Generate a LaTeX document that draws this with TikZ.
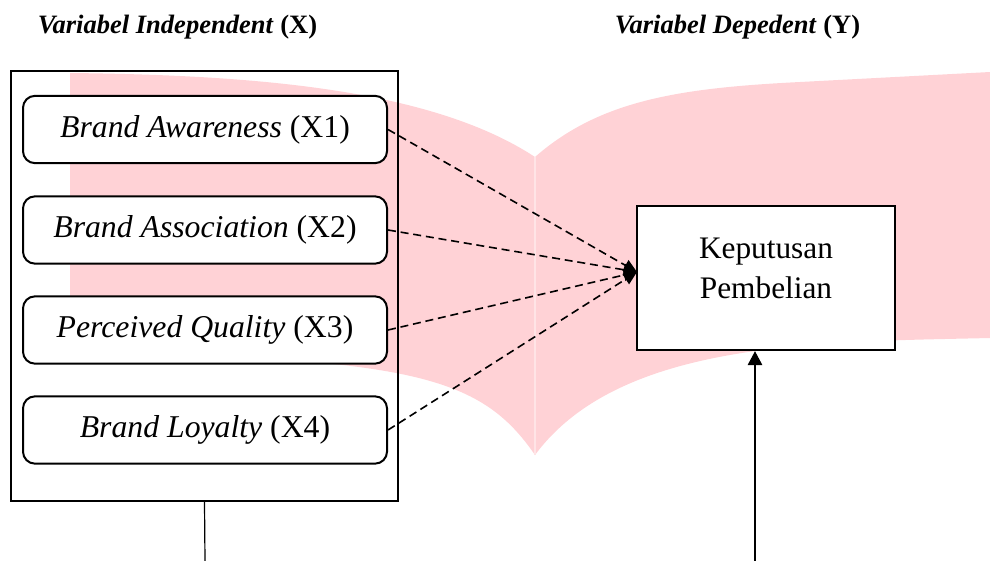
\documentclass[tikz,border=0pt]{standalone}
\usepackage{fontspec}
\setmainfont{Liberation Serif}
\usetikzlibrary{arrows.meta}
\definecolor{wm}{RGB}{255,210,214}
\definecolor{wmline}{RGB}{255,228,230}
\begin{document}
\begin{tikzpicture}[x=0.75pt,y=-0.75pt,
  varbox/.style={draw,line width=1.5pt,rounded corners=9pt,fill=white,minimum width=273pt,minimum height=50.5pt,inner sep=0pt,font=\fontsize{23.8}{28}\selectfont},
  outerbox/.style={draw,line width=1.6pt,minimum width=290pt,minimum height=322.5pt,inner sep=0pt},
  depbox/.style={draw,line width=1.8pt,fill=white,minimum width=193.5pt,minimum height=108pt,inner sep=0pt},
  deptext/.style={align=center,font=\fontsize{23.5}{30}\selectfont},
  titletext/.style={font=\fontsize{19.9}{24}\selectfont},
  dasharrow/.style={line width=1.2pt,dash pattern=on 6pt off 3.6pt,-{Triangle[length=10pt,width=9pt]}},
  plainline/.style={line width=0.9pt},
  uparrow/.style={line width=0.9pt,-{Triangle[length=10.5pt,width=11pt]}}
]
\useasboundingbox (0,0) rectangle (990,561);
% watermark (open book)
\fill[wm] (70,73) .. controls (250,75) and (430,88) .. (535,157)
  -- (535,455) .. controls (480,375) and (410,358) .. (70,352) -- cycle;
\fill[wm] (535,157) .. controls (600,100) and (680,88) .. (800,82)
  -- (990,72) -- (990,338) .. controls (820,342) and (620,340) .. (535,455) -- cycle;
\draw[wmline,line width=1pt] (535,157) -- (535,455);
% titles
\node[titletext] (tx) at (177.5,27) {\textbf{\textit{Variabel Independent}} \textbf{(X)}};
\node[titletext] (ty) at (737.5,27) {\textbf{\textit{Variabel Depedent}} \textbf{(Y)}};
% boxes
\node[outerbox] (outer) at (204.5,286) {};
\node[varbox] (x1) at (205,129.5) {\raisebox{-2pt}{\textit{Brand Awareness} (X1)}};
\node[varbox] (x2) at (205,230) {\raisebox{-2pt}{\textit{Brand Association} (X2)}};
\node[varbox] (x3) at (205,330) {\raisebox{-2pt}{\textit{Perceived Quality} (X3)}};
\node[varbox] (x4) at (205,430) {\raisebox{-2pt}{\textit{Brand Loyalty} (X4)}};
\node[depbox] (kp) at (766,278) {};
\node[deptext] (kptext) at (766,268) {Keputusan\\Pembelian};
\coordinate (tip) at (637,272);
\draw[dasharrow] (x1.east) -- (tip);
\draw[dasharrow] (x2.east) -- (tip);
\draw[dasharrow] (x3.east) -- (tip);
\draw[dasharrow] (x4.east) -- (tip);
\coordinate (outfoot) at (205,561);
\coordinate (infoot) at (755,561);
\draw[plainline] (outer.south) -- (outfoot);
\draw[uparrow] (infoot) -- (infoot |- kp.south);
\end{tikzpicture}
\end{document}
